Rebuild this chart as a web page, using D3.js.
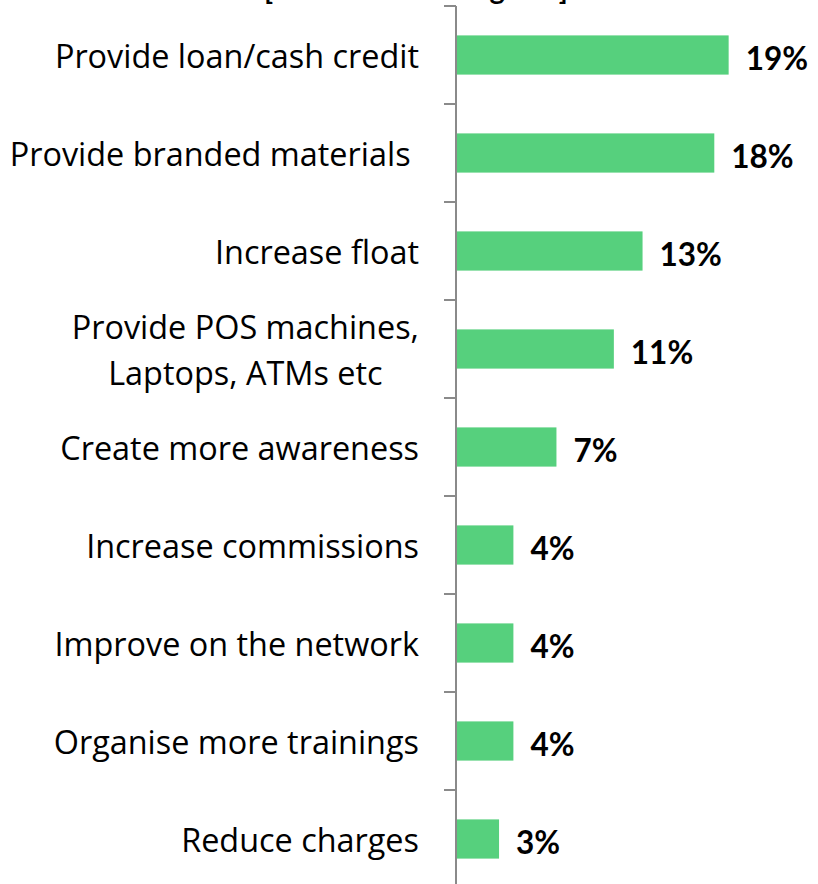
<!DOCTYPE html>
<html>
<head>
<meta charset="utf-8">
<script src="https://cdn.jsdelivr.net/npm/d3@7"></script>
<style>
  html, body { margin: 0; padding: 0; background: #fff; }
  svg { display: block; }
</style>
</head>
<body>
<svg id="chart" width="818" height="884"></svg>
<script>
// Suggestions for improving the agent service, share of agents (%)
const categories = [
  "Provide loan/cash credit",
  "Provide branded materials ",
  "Increase float",
  "Provide POS machines,\nLaptops, ATMs etc",
  "Create more awareness",
  "Increase commissions",
  "Improve on the network",
  "Organise more trainings",
  "Reduce charges"
];
const values = [19, 18, 13, 11, 7, 4, 4, 4, 3];
const titleText = "[Base: All active agents]";

const W = 818, H = 884;
const svg = d3.select("#chart");

const axisX = 456;
const labelFont = "'Open Sans', Lato, sans-serif";
const valueFont = "Lato, 'Open Sans', sans-serif";

// category bands (bars sit in the middle 40% of each band)
const y = d3.scaleBand()
  .domain(categories)
  .range([6, 888])
  .paddingInner(0.6)
  .paddingOuter(0.3);

// band boundaries for the axis tick marks
const yEdges = d3.scaleBand().domain(categories).range([6, 888]).padding(0);

const x = d3.scaleLinear().domain([0, 20]).range([axisX, axisX + 287]);

// title (sits mostly above the plotting area)
svg.append("text")
  .attr("x", 416)
  .attr("y", -1)
  .attr("text-anchor", "middle")
  .attr("font-family", valueFont)
  .attr("font-weight", "bold")
  .attr("font-size", 29)
  .text(titleText);

// bars
svg.append("g").selectAll("rect")
  .data(categories)
  .join("rect")
  .attr("x", x(0))
  .attr("y", d => y(d))
  .attr("width", (d, i) => x(values[i]) - x(0))
  .attr("height", y.bandwidth())
  .attr("fill", "#56d07d");

// vertical axis with outward ticks at band boundaries
const axisG = svg.append("g");
axisG.append("line")
  .attr("x1", axisX).attr("x2", axisX)
  .attr("y1", 6).attr("y2", H + 10)
  .attr("stroke", "#8a8a8a").attr("stroke-width", 2);
axisG.selectAll("line.tick")
  .data(categories.map(c => yEdges(c)))
  .join("line")
  .attr("class", "tick")
  .attr("x1", axisX - 12).attr("x2", axisX)
  .attr("y1", d => d).attr("y2", d => d)
  .attr("stroke", "#8a8a8a").attr("stroke-width", 2);

// category labels, right aligned; wrapped labels are centred within their block
const labelRight = 419;
const lineGap = 46;
const labelG = svg.append("g")
  .attr("font-family", labelFont)
  .attr("font-size", 32.4)
  .attr("fill", "#000");

categories.forEach(c => {
  const lines = c.split("\n");
  const cy = y(c) + y.bandwidth() / 2;
  const t = labelG.append("text")
    .style("white-space", "pre")
    .attr("dominant-baseline", "central");
  lines.forEach((ln, j) => {
    t.append("tspan")
      .attr("y", cy + (j - (lines.length - 1) / 2) * lineGap)
      .text(ln);
  });
  if (lines.length === 1) {
    t.attr("text-anchor", "end");
    t.selectAll("tspan").attr("x", labelRight);
  } else {
    const widths = [];
    t.selectAll("tspan").each(function () { widths.push(this.getComputedTextLength()); });
    const mid = labelRight - d3.max(widths) / 2;
    t.attr("text-anchor", "middle");
    t.selectAll("tspan").attr("x", mid);
  }
});

// value labels
svg.append("g")
  .attr("font-family", valueFont)
  .attr("font-weight", "bold")
  .attr("font-size", 31.5)
  .attr("fill", "#000")
  .selectAll("text")
  .data(categories)
  .join("text")
  .attr("x", (d, i) => x(values[i]) + 17)
  .attr("y", d => y(d) + y.bandwidth() / 2 + 3)
  .attr("dominant-baseline", "central")
  .text((d, i) => values[i] + "%");
</script>
</body>
</html>
